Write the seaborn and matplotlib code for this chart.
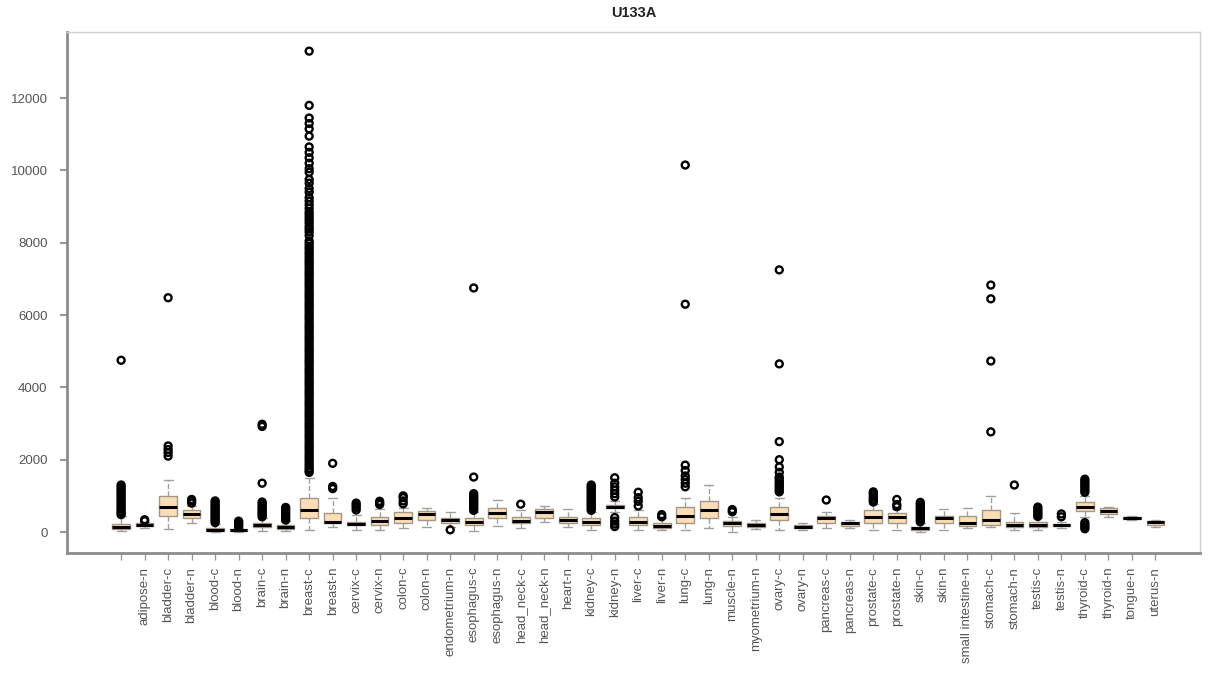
import numpy as np
import pandas as pd
import matplotlib
matplotlib.use("Agg")
import matplotlib.pyplot as plt
import seaborn as sns

# Tissue groups (first group has no printed name)
tissues = [
    " ", "adipose-n", "bladder-c", "bladder-n", "blood-c", "blood-n", "brain-c",
    "brain-n", "breast-c", "breast-n", "cervix-c", "cervix-n", "colon-c",
    "colon-n", "endometrium-n", "esophagus-c", "esophagus-n", "head_neck-c",
    "head_neck-n", "heart-n", "kidney-c", "kidney-n", "liver-c", "liver-n",
    "lung-c", "lung-n", "muscle-n", "myometrium-n", "ovary-c", "ovary-n",
    "pancreas-c", "pancreas-n", "prostate-c", "prostate-n", "skin-c", "skin-n",
    "small intestine-n", "stomach-c", "stomach-n", "testis-c", "testis-n",
    "thyroid-c", "thyroid-n", "tongue-n", "uterus-n",
]

# Five-number summaries per tissue
whisker_low = [30, 120, 80, 250, 5, 5, 40, 20, 55, 140, 60, 60, 110, 140, 150,
               40, 165, 110, 280, 140, 55, 560, 55, 55, 55, 110, 0, 80, 55, 60,
               110, 110, 55, 55, 10, 55, 110, 140, 55, 55, 100, 420, 415, 330, 150]
q1 = [90, 170, 440, 390, 30, 20, 140, 90, 390, 250, 190, 200, 250, 330, 250,
      190, 390, 250, 400, 250, 190, 660, 190, 110, 250, 390, 165, 140, 330, 110,
      250, 165, 250, 250, 55, 250, 165, 190, 140, 140, 170, 580, 500, 360, 190]
median = [150, 200, 700, 500, 60, 45, 190, 130, 610, 290, 220, 300, 390, 500, 320,
          285, 525, 310, 540, 330, 285, 690, 285, 165, 440, 610, 250, 200, 500, 150,
          390, 250, 425, 415, 100, 390, 260, 330, 190, 190, 190, 700, 580, 390, 275]
q3 = [230, 240, 1000, 610, 110, 75, 250, 180, 940, 525, 280, 420, 550, 580, 400,
      390, 660, 415, 650, 415, 390, 750, 415, 250, 690, 860, 300, 250, 690, 190,
      440, 280, 610, 525, 140, 440, 440, 610, 280, 280, 220, 820, 660, 415, 300]
whisker_high = [450, 290, 1440, 720, 230, 120, 380, 300, 1490, 940, 480, 650, 660,
                660, 560, 560, 885, 610, 720, 640, 560, 860, 610, 380, 940, 1300,
                420, 330, 940, 260, 560, 340, 775, 640, 250, 640, 660, 1000, 525,
                400, 280, 1000, 690, 440, 340]

# Outlying samples per tissue
outliers = [
    [480, 530, 580, 640, 700, 760, 820, 880, 940, 1000, 1060, 1120, 1180, 1240,
     1300, 4750],
    [310, 340],
    [2100, 2200, 2280, 2380, 6480],
    [800, 860, 900],
    [260, 310, 360, 410, 460, 510, 560, 610, 660, 710, 760, 810, 860],
    [140, 180, 220, 260, 300],
    [420, 470, 520, 570, 620, 670, 720, 780, 830, 1350, 2920, 2980],
    [330, 380, 430, 480, 530, 580, 630, 680],
    [1650, 1700, 1760, 1830, 1900, 1980, 2050, 2120, 2200, 2280, 2350, 2420,
     2500, 2580, 2650, 2720, 2800, 2880, 2950, 3020, 3100, 3180, 3250, 3320,
     3400, 3480, 3550, 3620, 3700, 3780, 3850, 3920, 4000, 4080, 4150, 4220,
     4300, 4380, 4450, 4520, 4600, 4680, 4750, 4820, 4900, 4980, 5050, 5120,
     5200, 5280, 5350, 5420, 5500, 5580, 5650, 5720, 5800, 5880, 5950, 6020,
     6100, 6180, 6250, 6320, 6400, 6480, 6550, 6620, 6700, 6780, 6850, 6920,
     7000, 7080, 7150, 7220, 7300, 7380, 7450, 7520, 7600, 7680, 7750, 7830,
     7900, 7980, 8050, 8200, 8300, 8380, 8450, 8540, 8620, 8700, 8780, 8850,
     8950, 9050, 9150, 9250, 9400, 9500, 9650, 9750, 9950, 10050, 10200, 10350,
     10500, 10650, 10950, 11150, 11300, 11450, 11800, 13300],
    [1200, 1260, 1900],
    [610, 680, 740, 800],
    [760, 800, 850],
    [780, 860, 950, 1000],
    [],
    [60],
    [600, 650, 700, 750, 800, 850, 900, 950, 1000, 1060, 1520, 6750],
    [],
    [770],
    [],
    [],
    [600, 650, 700, 750, 800, 850, 900, 950, 1000, 1050, 1100, 1150, 1200, 1250,
     1300],
    [150, 220, 300, 400, 970, 1060, 1150, 1250, 1350, 1500],
    [720, 850, 950, 1100],
    [420, 480],
    [1250, 1350, 1450, 1550, 1700, 1850, 6300, 10150],
    [],
    [560, 620],
    [],
    [1110, 1160, 1210, 1260, 1310, 1360, 1420, 1480, 1520, 1650, 1800, 2000,
     2500, 4650, 7250],
    [],
    [885],
    [],
    [830, 880, 940, 1000, 1060, 1110],
    [700, 760, 900],
    [280, 330, 380, 430, 480, 530, 580, 630, 680, 730, 780, 820],
    [],
    [],
    [2770, 4730, 6450, 6830],
    [1300],
    [430, 480, 530, 580, 640, 690],
    [420, 500],
    [90, 140, 200, 260, 1100, 1160, 1220, 1280, 1340, 1400, 1460],
    [],
    [],
    [],
]

y_ticks = [0, 2000, 4000, 6000, 8000, 10000, 12000]

# Long-form tables for the boxes and the outlying points
box_rows = []
for t, lo, a, m, b, hi in zip(tissues, whisker_low, q1, median, q3, whisker_high):
    for v in (lo, a, m, b, hi):
        box_rows.append((t, v))
box_df = pd.DataFrame(box_rows, columns=["tissue", "expression"])

flier_rows = [(t, v) for t, vals in zip(tissues, outliers) for v in vals]
flier_df = pd.DataFrame(flier_rows, columns=["tissue", "expression"])

sns.set_style("white")
plt.rcParams["font.family"] = ["Liberation Sans", "DejaVu Sans"]

fig = plt.figure(figsize=(12.08, 6.79), dpi=100)
ax = fig.add_axes([0.0555, 0.1856, 0.9379, 0.7673])

sns.boxplot(
    data=box_df, x="tissue", y="expression", order=tissues, ax=ax,
    color="#FCDDB5", saturation=1, width=0.75, whis=(0, 100),
    showfliers=False, linecolor="#A39886", linewidth=1.0,
    medianprops=dict(color="black", linewidth=2.2),
    whiskerprops=dict(color="#A0A0A0", linestyle="--", linewidth=1.0),
    capprops=dict(color="#A0A0A0", linewidth=1.0),
)

sns.stripplot(
    data=flier_df, x="tissue", y="expression", order=tissues, ax=ax,
    jitter=False, size=5, color="black", edgecolor="black", linewidth=1.7,
    zorder=4,
)
for coll in ax.collections:
    coll.set_facecolor("none")
    coll.set_edgecolor("black")

ax.set_xlim(-2.3, 45.9)
ax.set_ylim(-580, 13830)
ax.set_yticks(y_ticks)
ax.set_yticklabels([str(v) for v in y_ticks])
ax.set_xlabel("")
ax.set_ylabel("")
ax.set_title("U133A", fontsize=10.5, fontweight="bold", color="#222222", pad=11)

ax.tick_params(axis="x", rotation=90, labelsize=9.5, labelcolor="#555555",
               length=5, width=1, color="#999999", pad=5, bottom=True)
ax.tick_params(axis="y", labelsize=9.5, labelcolor="#555555",
               length=5, width=1.5, color="#999999", pad=9, left=True)

for side in ("left", "bottom"):
    ax.spines[side].set_color("#8C8C8C")
    ax.spines[side].set_linewidth(2)
for side in ("top", "right"):
    ax.spines[side].set_color("#D0D0D0")
    ax.spines[side].set_linewidth(1)

fig.savefig("out.png", dpi=100)
